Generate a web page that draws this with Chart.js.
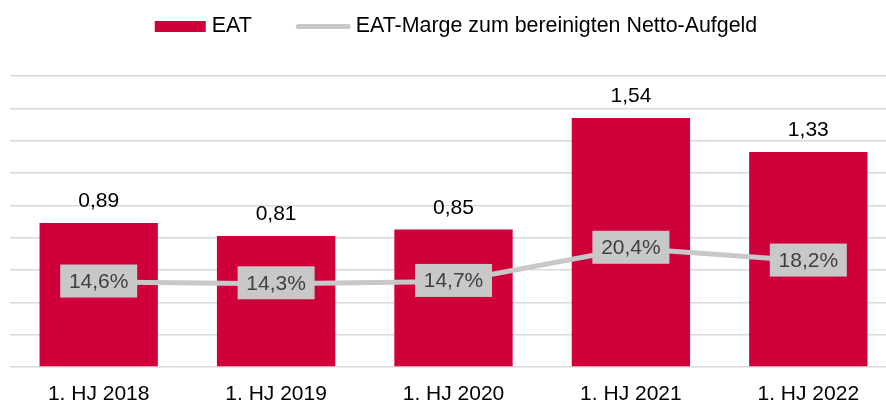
<!DOCTYPE html>
<html>
<head>
<meta charset="utf-8">
<script src="https://cdn.jsdelivr.net/npm/chart.js@4"></script>
<style>
  html, body { margin: 0; padding: 0; background: #fff; overflow: hidden; }
  canvas { display: block; }
</style>
</head>
<body>
<canvas id="chart" width="897" height="401"></canvas>
<script>
const categories = ["1. HJ 2018", "1. HJ 2019", "1. HJ 2020", "1. HJ 2021", "1. HJ 2022"]
const eatValues = [0.89, 0.81, 0.85, 1.54, 1.33]
const marginValues = [14.6, 14.3, 14.7, 20.4, 18.2]
const seriesNames = ["EAT", "EAT-Marge zum bereinigten Netto-Aufgeld"]

const FONT = '"Liberation Sans", Arial, sans-serif'
const RED = "#cf0039"
const GREY = "#c8c8c8"

const fmt = (v, d) => v.toFixed(d).replace(".", ",")

const labelPlugin = {
  id: 'labels',
  afterDatasetsDraw(chart) {
    const ctx = chart.ctx
    ctx.save()
    ctx.font = `21px ${FONT}`
    ctx.textAlign = "center"

    // values above the bars
    const bars = chart.getDatasetMeta(1)
    ctx.fillStyle = "#000"
    ctx.textBaseline = "alphabetic"
    bars.data.forEach((bar, i) => {
      ctx.fillText(fmt(eatValues[i], 2), bar.x, bar.y - 16)
    })

    // boxed percentages on the line
    const line = chart.getDatasetMeta(0)
    ctx.textBaseline = "middle"
    line.data.forEach((pt, i) => {
      ctx.fillStyle = GREY
      ctx.fillRect(pt.x - 38.5, pt.y - 17.5, 77, 33)
      ctx.fillStyle = "#404040"
      ctx.fillText(fmt(marginValues[i], 1) + "%", pt.x, pt.y)
    })
    ctx.restore()
  },
  afterDraw(chart) {
    // legend
    const ctx = chart.ctx
    ctx.save()
    ctx.font = `21.4px ${FONT}`
    ctx.textBaseline = "middle"
    ctx.textAlign = "left"
    const w1 = ctx.measureText(seriesNames[0]).width
    const w2 = ctx.measureText(seriesNames[1]).width
    const total = 51 + 6 + w1 + 44 + 55 + 5 + w2
    let x = 456 - total / 2
    const y = 26.5
    ctx.fillStyle = RED
    ctx.fillRect(x, y - 5.5, 51, 11)
    x += 57
    ctx.fillStyle = "#000"
    ctx.fillText(seriesNames[0], x, y)
    x += w1 + 44
    ctx.strokeStyle = GREY
    ctx.lineWidth = 5
    ctx.lineCap = "round"
    ctx.beginPath()
    ctx.moveTo(x + 2.5, y)
    ctx.lineTo(x + 52.5, y)
    ctx.stroke()
    x += 60
    ctx.fillText(seriesNames[1], x, y)
    ctx.restore()
  }
}

new Chart(document.getElementById("chart"), {
  data: {
    labels: categories,
    datasets: [{
      type: "line",
      label: seriesNames[1],
      data: marginValues,
      yAxisID: "y2",
      borderColor: GREY,
      borderWidth: 5,
      pointRadius: 0,
      tension: 0
    }, {
      type: "bar",
      label: seriesNames[0],
      data: eatValues,
      yAxisID: "y",
      backgroundColor: RED,
      barPercentage: 0.667,
      categoryPercentage: 1
    }]
  },
  options: {
    responsive: false,
    animation: false,
    layout: {
      padding: { left: 10, top: 76, right: 0, bottom: 0 }
    },
    plugins: {
      legend: { display: false },
      tooltip: { enabled: false }
    },
    scales: {
      x: {
        grid: { display: false },
        border: { display: false },
        ticks: {
          color: "#000",
          font: { family: FONT, size: 21 },
          padding: 7,
          maxRotation: 0
        },
        afterFit(scale) { scale.height = 34 }
      },
      y: {
        min: 0,
        max: 1.8,
        ticks: { display: false, stepSize: 0.2 },
        grid: { color: "#d9d9d9", lineWidth: 1.5, drawTicks: false },
        border: { display: false },
        afterFit(scale) { scale.width = 0 }
      },
      y2: {
        display: false,
        min: 0,
        max: 50
      }
    }
  },
  plugins: [labelPlugin]
})
</script>
</body>
</html>
